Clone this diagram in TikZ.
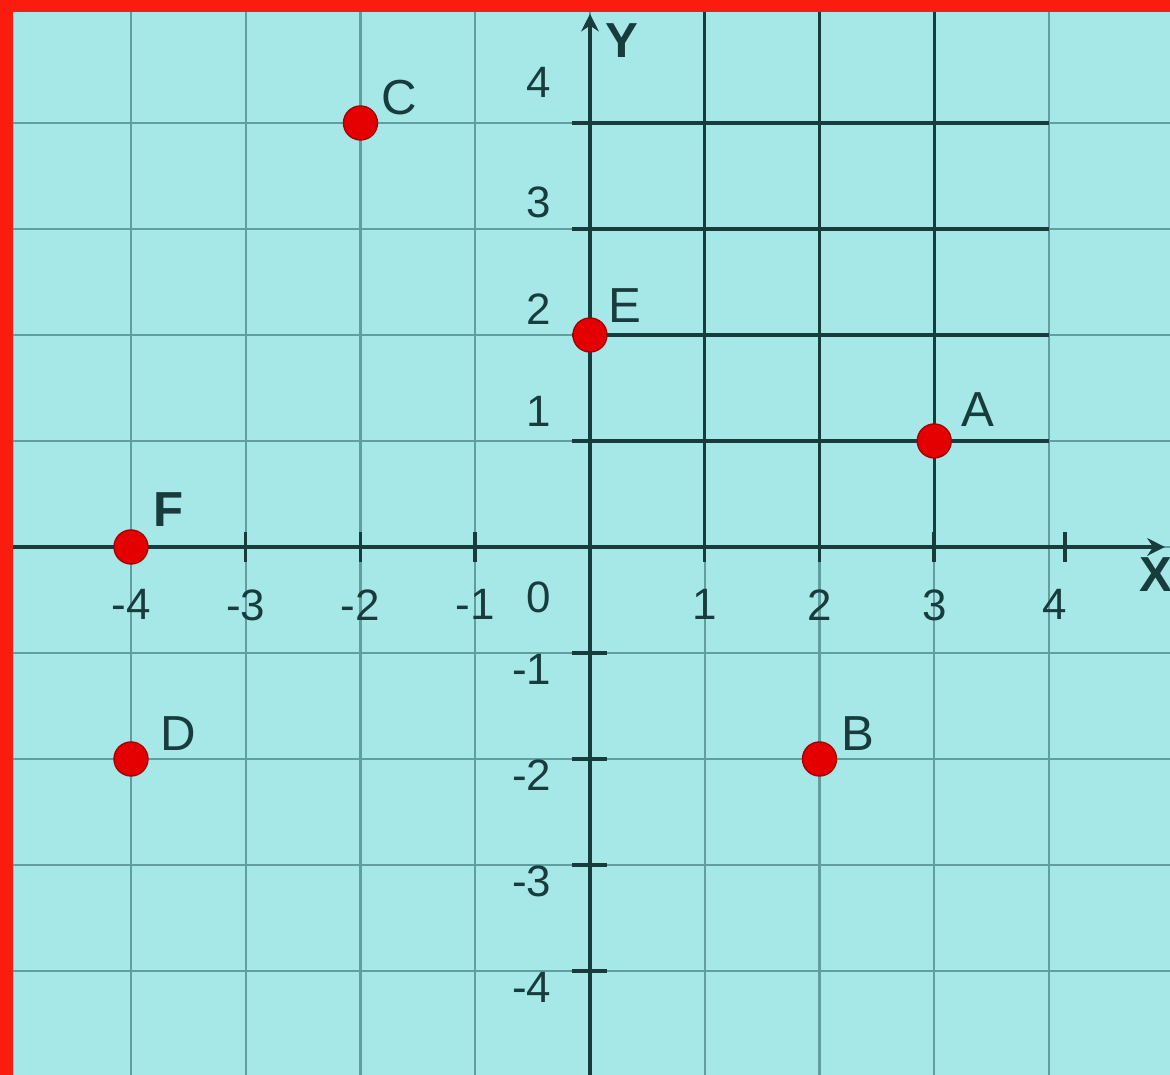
\documentclass[tikz,border=0pt]{standalone}
\usepackage{fontspec}
\setmainfont{Liberation Sans}
\usetikzlibrary{positioning,arrows.meta}
\definecolor{paper}{RGB}{166,232,232}
\definecolor{gridgray}{RGB}{98,158,160}
\definecolor{inkdark}{RGB}{24,60,62}
\definecolor{frame}{RGB}{250,28,14}
\definecolor{dotred}{RGB}{228,0,0}

\begin{document}
\begin{tikzpicture}[x=1.1475cm,y=1.06cm,
  gridline/.style={gridgray,line width=0.6pt},
  boldline/.style={inkdark,line width=0.9pt},
  axis/.style={inkdark,line width=1.2pt,-{Stealth[length=5pt,width=5pt]}},
  axtick/.style={inkdark,line width=1pt},
  num/.style={inkdark,font=\fontsize{12.5}{14}\selectfont,inner sep=1pt},
  dotnode/.style={circle,fill=dotred,draw=red!65!black,line width=0.4pt,minimum size=0.34cm,inner sep=0pt,outer sep=0pt},
  ptlabel/.style={inkdark,font=\fontsize{14}{16}\selectfont,inner sep=0pt}]
\useasboundingbox (-5.1416,-4.9811) rectangle (5.0545,5.1604);
\fill[paper] (-5.1416,-4.9811) rectangle (5.0545,5.1604);

% Grid
\foreach \x in {-4,...,4} \draw[gridline] (\x,-4.9811) -- (\x,5.1604);
\foreach \y in {-4,...,4} \draw[gridline] (-5.1416,\y) -- (5.0545,\y);
\foreach \x in {1,2,3} \draw[boldline] (\x,0) -- (\x,5.1604);
\foreach \y in {1,2,3,4} \draw[boldline] (0,\y) -- (4,\y);

% Axes
\coordinate (xstart) at (-5.1416,0);
\coordinate (xend) at (5.01,0);
\coordinate (ystart) at (0,-4.9811);
\coordinate (yend) at (0,5.03);
\draw[axis] (xstart) -- (xend);
\draw[axis] (ystart) -- (yend);
\node[ptlabel,font=\fontsize{14}{16}\selectfont\bfseries] (xlab) at (4.93,-0.26) {X};
\node[ptlabel,font=\fontsize{14}{16}\selectfont\bfseries] (ylab) at (0.28,4.78) {Y};

% Ticks
\foreach \x in {-3,-2,-1,1,2,3} \draw[axtick] (\x,-0.14) -- (\x,0.14);
\draw[axtick] (4.14,-0.14) -- (4.14,0.14);
\foreach \y in {-4,-3,-2,-1,1,2,3,4} \draw[axtick] (-0.16,\y) -- (0.15,\y);

\foreach \x in {-4,-3,-2,-1,1,2,3} \node[num,anchor=north] (xl\x) at (\x,-0.36) {\x};
\node[num,anchor=north] (xl4) at (4.05,-0.36) {4};
\node[num,anchor=north east] (xl0) at (-0.3,-0.29) {0};

\node[num,anchor=south east] (yl1) at (-0.3,1.1) {1};
\node[num,anchor=south east] (yl2) at (-0.3,2.06) {2};
\node[num,anchor=south east] (yl3) at (-0.3,3.06) {3};
\node[num,anchor=south east] (yl4) at (-0.3,4.2) {4};
\foreach \y in {-4,-3,-2,-1} \node[num,anchor=north east] (yl\y) at (-0.3,\y+0.03) {\y};

% Points
\node[dotnode] (C) at (-2,4) {};
\node[ptlabel,above right=-0.05cm and 0.08cm of C] (Clab) {C};
\node[dotnode] (E) at (0,2) {};
\node[ptlabel,above right=0cm and 0.06cm of E] (Elab) {E};
\node[dotnode] (A) at (3,1) {};
\node[ptlabel,above right=0.02cm and 0.15cm of A] (Alab) {A};
\node[dotnode] (F) at (-4,0) {};
\node[ptlabel,font=\fontsize{14}{16}\selectfont\bfseries,above right=0.08cm and 0.1cm of F] (Flab) {F};
\node[dotnode] (D) at (-4,-2) {};
\node[ptlabel,above right=-0.04cm and 0.17cm of D] (Dlab) {D};
\node[dotnode] (B) at (2,-2) {};
\node[ptlabel,above right=-0.04cm and 0.09cm of B] (Blab) {B};

% Frame
\fill[frame] (-5.1416,5.1604) rectangle (5.0545,5.047);
\fill[frame] (-5.1416,-4.9811) rectangle (-5.028,5.1604);
\end{tikzpicture}
\end{document}
